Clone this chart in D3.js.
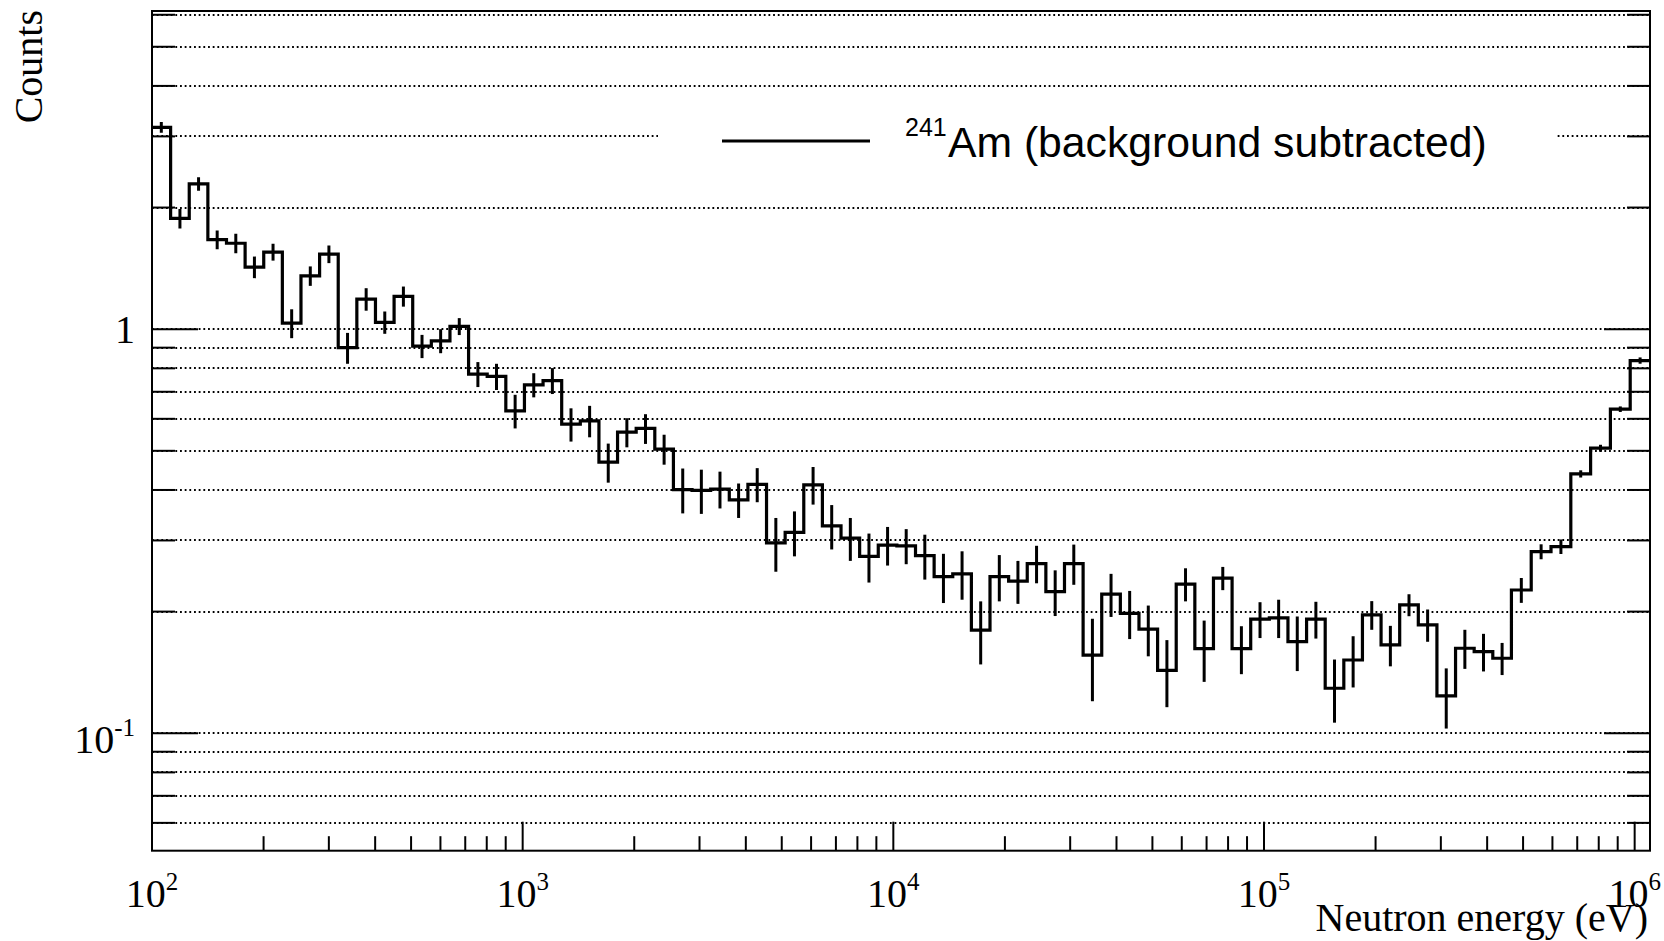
<!DOCTYPE html>
<html>
<head>
<meta charset="utf-8">
<script src="https://cdn.jsdelivr.net/npm/d3@7"></script>
<style>
  html, body { margin: 0; padding: 0; background: #fff; }
  svg { display: block; }
</style>
</head>
<body>
<svg id="chart" width="1664" height="941"></svg>
<script>
// ---------------- data ----------------
const binLow = 100;          // first bin lower edge (eV)
const binHigh = 1.1e6;       // last bin upper edge (eV)
const fineBinStep = 0.05024; // decades per bin for the fine part
const nFineBins = 73;        // number of fine bins
const nCoarseBins = 7;       // remaining bins up to binHigh

const counts = [
  3.16, 1.88, 2.29, 1.666, 1.632, 1.425, 1.552, 1.035, 1.355, 1.534,
  0.90, 1.187, 1.04, 1.206, 0.908, 0.936, 1.016, 0.774, 0.764, 0.628,
  0.728, 0.746, 0.582, 0.593, 0.469, 0.556, 0.568, 0.505, 0.401, 0.399,
  0.402, 0.378, 0.413, 0.296, 0.314, 0.412, 0.326, 0.304, 0.274, 0.292,
  0.291, 0.275, 0.244, 0.248, 0.180, 0.244, 0.238, 0.263, 0.224, 0.263,
  0.156, 0.221, 0.198, 0.181, 0.143, 0.234, 0.162, 0.242, 0.162, 0.1915,
  0.193, 0.1685, 0.1915, 0.1292, 0.1518, 0.1963, 0.1654, 0.2078, 0.1854, 0.1237,
  0.1623, 0.1592, 0.1533, 0.2262, 0.2815, 0.2897, 0.4384, 0.5075, 0.6339, 0.8363
];
const errors = [
  0.095, 0.104, 0.088, 0.088, 0.09, 0.0875, 0.074, 0.085, 0.075, 0.077,
  0.079, 0.076, 0.066, 0.069, 0.06, 0.064, 0.049, 0.055, 0.057, 0.06,
  0.05, 0.055, 0.055, 0.053, 0.052, 0.046, 0.048, 0.043, 0.051, 0.05,
  0.042, 0.037, 0.04, 0.045, 0.04, 0.044, 0.041, 0.037, 0.038, 0.032,
  0.029, 0.035, 0.034, 0.034, 0.032, 0.032, 0.029, 0.028, 0.029, 0.03,
  0.036, 0.027, 0.027, 0.026, 0.027, 0.022, 0.028, 0.016, 0.022, 0.0195,
  0.021, 0.026, 0.02, 0.023, 0.022, 0.016, 0.019, 0.013, 0.017, 0.021,
  0.018, 0.017, 0.014, 0.016, 0.012, 0.012, 0.009, 0.01, 0.01, 0.015
];

const xMajorTicks = [1e2, 1e3, 1e4, 1e5, 1e6];
const xTickExponents = ["2", "3", "4", "5", "6"];
const xMinorMantissas = [2, 3, 4, 5, 6, 7, 8, 9];
const yMajorTicks = [0.1, 1];
const yTickLabels = [["10", "-1"], ["1", ""]];
const yGridTicks = [0.06, 0.07, 0.08, 0.09, 0.1, 0.2, 0.3, 0.4, 0.5, 0.6, 0.7, 0.8, 0.9, 1, 2, 3, 4, 5, 6];
const yDomain = [0.0512, 6.13];
const xTitle = "Neutron energy (eV)";
const yTitle = "Counts";
const legendIsotope = "241";
const legendText = "Am (background subtracted)";

// ---------------- layout ----------------
const W = 1664, H = 941;
const L = 152, R = 1650, T = 11, B = 850.7;
const serif = "'Liberation Serif', 'Times New Roman', serif";
const sans = "'Liberation Sans', Arial, sans-serif";

const svg = d3.select("#chart");
svg.append("rect").attr("width", W).attr("height", H).attr("fill", "#fff");

const x = d3.scaleLog().domain([binLow, binHigh]).range([L, R]);
const y = d3.scaleLog().domain(yDomain).range([B, T]);

// bin edges (log-spaced, fine part then coarse part up to binHigh)
const lgLo = Math.log10(binLow), lgHi = Math.log10(binHigh);
const lgMid = lgLo + nFineBins * fineBinStep;
const edgesLog = d3.range(nFineBins + 1).map(i => lgLo + i * fineBinStep)
  .concat(d3.range(1, nCoarseBins + 1).map(i => lgMid + (lgHi - lgMid) * i / nCoarseBins));
const edges = edgesLog.map(v => Math.pow(10, v));
const bins = counts.map((c, i) => ({
  x0: edges[i], x1: edges[i + 1],
  xc: Math.pow(10, (edgesLog[i] + edgesLog[i + 1]) / 2),
  v: c, e: errors[i]
}));

// ---------------- grid ----------------
const grid = svg.append("g");
grid.selectAll("line").data(yGridTicks).join("line")
  .attr("x1", L).attr("x2", R)
  .attr("y1", d => Math.round(y(d))).attr("y2", d => Math.round(y(d)))
  .attr("stroke", "#000").attr("stroke-width", 1.8)
  .attr("stroke-dasharray", "1.8,2.87");

// legend background (covers grid)
svg.append("rect").attr("x", 658).attr("y", 100).attr("width", 898).attr("height", 76)
  .attr("fill", "#fff");

// ---------------- histogram ----------------
const stepPts = bins.map(b => [x(b.x0), y(b.v)]);
stepPts.push([x(binHigh), y(counts[counts.length - 1])]);
const line = d3.line().curve(d3.curveStepAfter);

svg.append("clipPath").attr("id", "clip")
  .append("rect").attr("x", L).attr("y", T).attr("width", R - L).attr("height", B - T);

const plot = svg.append("g").attr("clip-path", "url(#clip)");
plot.append("path").attr("d", line(stepPts))
  .attr("fill", "none").attr("stroke", "#000").attr("stroke-width", 3.2)
  .attr("stroke-linejoin", "miter");

plot.selectAll("line.err").data(bins).join("line").attr("class", "err")
  .attr("x1", d => x(d.xc)).attr("x2", d => x(d.xc))
  .attr("y1", d => y(d.v + d.e)).attr("y2", d => y(d.v - d.e))
  .attr("stroke", "#000").attr("stroke-width", 3);

// ---------------- axes / ticks ----------------
const axes = svg.append("g").attr("stroke", "#000").attr("stroke-width", 2);
axes.append("rect").attr("x", L).attr("y", T).attr("width", R - L).attr("height", B - T)
  .attr("fill", "none");

const xMinor = [];
xMajorTicks.forEach(m => xMinorMantissas.forEach(k => { if (m * k <= binHigh) xMinor.push(m * k); }));
axes.selectAll("line.xmin").data(xMinor).join("line").attr("class", "xmin")
  .attr("x1", d => x(d)).attr("x2", d => x(d)).attr("y1", B).attr("y2", B - 14.5);
axes.selectAll("line.xmaj").data(xMajorTicks).join("line").attr("class", "xmaj")
  .attr("x1", d => x(d)).attr("x2", d => x(d)).attr("y1", B).attr("y2", B - 29);

const yMinor = yGridTicks.filter(v => !yMajorTicks.includes(v));
[[L, 1], [R, -1]].forEach(([x0, dir]) => {
  axes.append("g").selectAll("line").data(yMinor).join("line")
    .attr("x1", x0).attr("x2", x0 + dir * 23).attr("y1", d => y(d)).attr("y2", d => y(d));
  axes.append("g").selectAll("line").data(yMajorTicks).join("line")
    .attr("x1", x0).attr("x2", x0 + dir * 46).attr("y1", d => y(d)).attr("y2", d => y(d));
});

// tick labels
const xl = svg.append("g").attr("font-family", serif).attr("fill", "#000");
xMajorTicks.forEach((t, i) => {
  const tx = xl.append("text").attr("x", x(t)).attr("y", 906.5)
    .attr("text-anchor", "middle").attr("font-size", 40);
  tx.append("tspan").text("10");
  tx.append("tspan").attr("font-size", 25).attr("dy", -17).text(xTickExponents[i]);
});

yMajorTicks.forEach((t, i) => {
  const [base, ex] = yTickLabels[i];
  const ty = xl.append("text").attr("x", 135).attr("text-anchor", "end").attr("font-size", 40);
  if (ex) {
    ty.attr("y", y(t) + 19.5);
    ty.append("tspan").text(base);
    ty.append("tspan").attr("font-size", 25).attr("dy", -17).text(ex);
  } else {
    ty.attr("y", y(t) + 13.5).text(base);
  }
});

// axis titles
xl.append("text").attr("x", 1648).attr("y", 931).attr("text-anchor", "end")
  .attr("font-size", 40).text(xTitle);
xl.append("text").attr("transform", "translate(42,10) rotate(-90)")
  .attr("text-anchor", "end").attr("font-size", 40).text(yTitle);

// ---------------- legend ----------------
const lg = svg.append("g");
lg.append("line").attr("x1", 722).attr("x2", 870).attr("y1", 141).attr("y2", 141)
  .attr("stroke", "#000").attr("stroke-width", 3.2);
lg.append("text").attr("x", 905).attr("y", 136).attr("font-family", sans)
  .attr("font-size", 25).text(legendIsotope);
lg.append("text").attr("x", 948).attr("y", 157).attr("font-family", sans)
  .attr("font-size", 42.7).text(legendText);
</script>
</body>
</html>
